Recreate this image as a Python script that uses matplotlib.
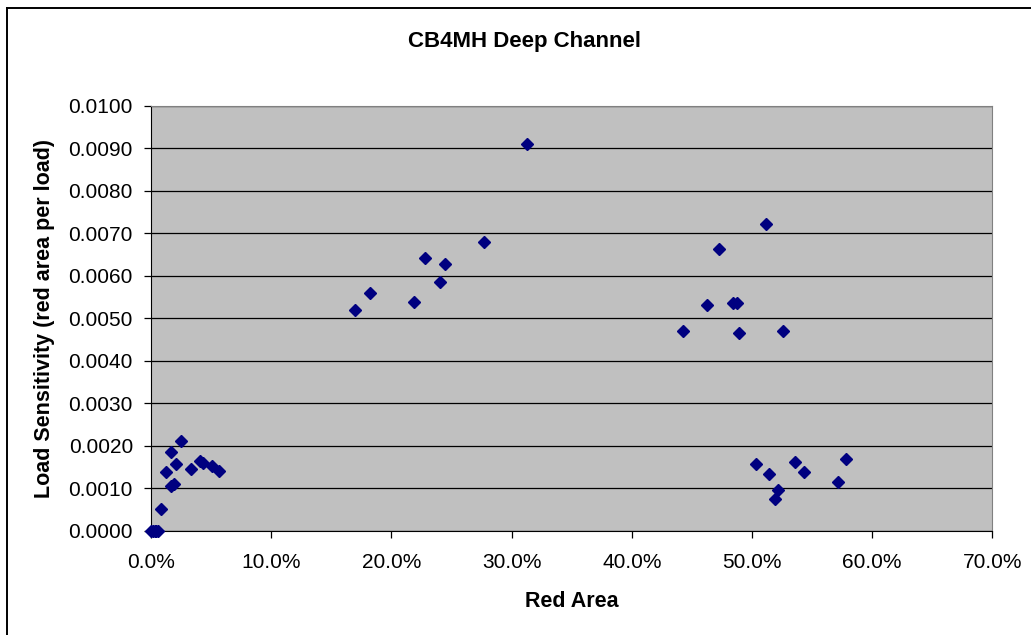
import matplotlib.pyplot as plt
from matplotlib.ticker import PercentFormatter, MultipleLocator
from matplotlib.lines import Line2D

plt.rcParams["font.family"] = ["Liberation Sans", "DejaVu Sans"]

# Red area (fraction) vs load sensitivity (red area per load)
red_area = [
    0.0000, 0.0015, 0.0030, 0.0045, 0.0060, 0.0081,
    0.0122, 0.0166, 0.0170, 0.0195, 0.0208, 0.0250,
    0.0333, 0.0408, 0.0435, 0.0505, 0.0566,
    0.1695, 0.1822, 0.2191, 0.2277, 0.2402, 0.2443, 0.2768, 0.3126,
    0.4423, 0.4623, 0.4723, 0.4844, 0.4878, 0.4892, 0.5116, 0.5258,
    0.5033, 0.5144, 0.5189, 0.5216, 0.5358, 0.5430, 0.5713, 0.5782,
]
load_sensitivity = [
    0.0000, 0.0000, 0.0000, 0.0000, 0.0000, 0.00052,
    0.00138, 0.00185, 0.00106, 0.00111, 0.00157, 0.00211,
    0.00145, 0.00165, 0.00159, 0.00153, 0.00141,
    0.00520, 0.00560, 0.00539, 0.00641, 0.00586, 0.00629, 0.00680, 0.00911,
    0.00469, 0.00531, 0.00664, 0.00535, 0.00535, 0.00465, 0.00723, 0.00469,
    0.00157, 0.00134, 0.00075, 0.00095, 0.00161, 0.00138, 0.00114, 0.00169,
]

fig = plt.figure(figsize=(10.31, 6.35), dpi=100)
ax = fig.add_axes([0.1465, 0.1643, 0.816, 0.6688])
ax.set_facecolor("#C0C0C0")

ax.plot(red_area, load_sensitivity, linestyle="none", marker="D", ms=6.2,
        color="#000080", clip_on=False, zorder=3)

ax.set_xlim(0, 0.7)
ax.set_ylim(0, 0.01)
ax.xaxis.set_major_locator(MultipleLocator(0.1))
ax.xaxis.set_major_formatter(PercentFormatter(xmax=1, decimals=1))
ax.yaxis.set_major_locator(MultipleLocator(0.001))
ax.yaxis.set_major_formatter(lambda v, p: f"{v:.4f}")
ax.grid(axis="y", color="black", linewidth=0.9)
ax.set_axisbelow(True)
ax.tick_params(labelsize=15, length=5, width=0.9, color="black")
ax.tick_params(axis="y", pad=8)
ax.tick_params(axis="x", pad=11)

for side in ["top", "right"]:
    ax.spines[side].set_color("#808080")
for side in ["left", "bottom"]:
    ax.spines[side].set_color("black")

ax.set_xlabel("Red Area", fontsize=15.5, fontweight="bold", labelpad=14)
ax.set_ylabel("Load Sensitivity (red area per load)", fontsize=15.5,
              fontweight="bold", labelpad=10)
fig.text(525 / 1031, 1 - 42 / 635, "CB4MH Deep Channel", ha="center",
         va="center", fontsize=16, fontweight="bold")

# chart area border
fig.add_artist(Line2D([6.5 / 1031, 6.5 / 1031], [0, 1 - 7.5 / 635],
                      color="black", linewidth=1.4))
fig.add_artist(Line2D([6.5 / 1031, 1], [1 - 7.5 / 635, 1 - 7.5 / 635],
                      color="black", linewidth=1.4))

fig.savefig("out.png", dpi=100)
